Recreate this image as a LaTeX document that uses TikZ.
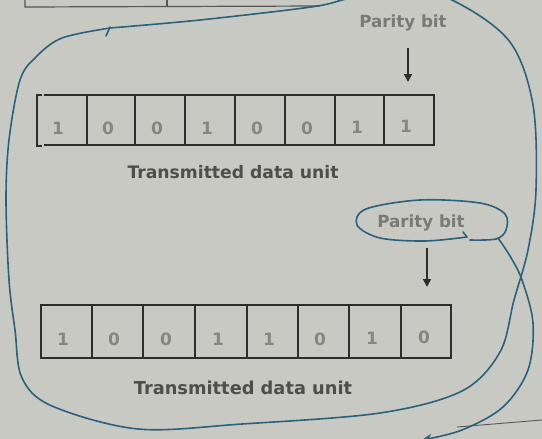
\documentclass[tikz,border=0pt]{standalone}
\usepackage{fontspec}
\setmainfont{DejaVu Sans}
\usetikzlibrary{arrows.meta}
\definecolor{paper}{RGB}{201,201,195}
\definecolor{ink}{RGB}{45,45,45}
\definecolor{graytxt}{RGB}{135,135,130}
\definecolor{partxt}{RGB}{122,122,118}
\definecolor{labtxt}{RGB}{78,78,75}
\definecolor{pen}{RGB}{42,98,124}
\tikzset{
  cellbox/.style={draw=ink, line width=1.5pt, inner sep=0pt, minimum height=#1},
  digit/.style={text=graytxt, font=\bfseries\fontsize{17}{17}\selectfont, inner sep=0pt},
  parlab/.style={text=partxt, font=\bfseries\fontsize{16.7}{17}\selectfont, inner sep=0pt},
  unitlab/.style={text=labtxt, font=\bfseries\fontsize{#1}{18}\selectfont, inner sep=0pt},
  parrow/.style={draw=ink, line width=1.6pt, -{Triangle[length=8pt,width=8pt]}},
  penline/.style={draw=pen, line width=1.6pt, line cap=round, line join=round},
  printline/.style={draw=ink!80, line width=1.2pt}
}
\begin{document}
\begin{tikzpicture}[x=1pt,y=-1pt]
\useasboundingbox (0,0) rectangle (542,439);
\clip (0,0) rectangle (542,439);
\fill[paper] (0,0) rectangle (542,439);
% top partial table
\draw[printline] (25,0) -- (25,7) -- (320,6);
\draw[printline] (167,0) -- (167,7);
% bottom right printed line
\draw[printline, line width=0.9pt] (457,427) -- (542,420);

% ---- row 1 ----
\node[cellbox=50pt, draw=none, minimum width=50pt] (a1) at (62,120) {};
\draw[ink, line width=1.5pt] (42,95) -- (37,95) -- (37,146) -- (42,146);
\draw[ink, line width=1.5pt] (44,95) -- (87,95) (44,145) -- (87,145);
\node[cellbox=50pt, minimum width=48pt] (a2) at (111,120) {};
\node[cellbox=50pt, minimum width=50pt] (a3) at (160,120) {};
\node[cellbox=50pt, minimum width=50pt] (a4) at (210,120) {};
\node[cellbox=50pt, minimum width=50pt] (a5) at (260,120) {};
\node[cellbox=50pt, minimum width=50pt] (a6) at (310,120) {};
\node[cellbox=50pt, minimum width=49pt] (a7) at (359.5,120) {};
\node[cellbox=50pt, minimum width=50pt] (a8) at (409,120) {};
\node[digit] (da1) at (58,128) {1};
\node[digit] (da2) at (108,128) {0};
\node[digit] (da3) at (157,128) {0};
\node[digit] (da4) at (207,128) {1};
\node[digit] (da5) at (257,128) {0};
\node[digit] (da6) at (307,128) {0};
\node[digit] (da7) at (357,127) {1};
\node[digit] (da8) at (406,126) {1};
\node[parlab] (p1) at (403,23) {Parity bit};
\coordinate (p1s) at (408,48);
\coordinate (p1e) at (408,82);
\draw[parrow] (p1s) -- (p1e);
\node[unitlab=17.2] (u1) at (233,172) {Transmitted data unit};

% ---- row 2 ----
\node[cellbox=53pt, minimum width=51pt] (b1) at (66.5,331.5) {};
\node[cellbox=53pt, minimum width=51pt] (b2) at (117.5,331.5) {};
\node[cellbox=53pt, minimum width=52pt] (b3) at (169,331.5) {};
\node[cellbox=53pt, minimum width=52pt] (b4) at (221,331.5) {};
\node[cellbox=53pt, minimum width=51pt] (b5) at (272.5,331.5) {};
\node[cellbox=53pt, minimum width=51pt] (b6) at (323.5,331.5) {};
\node[cellbox=53pt, minimum width=52pt] (b7) at (375,331.5) {};
\node[cellbox=53pt, minimum width=50pt] (b8) at (426,331.5) {};
\node[digit] (db1) at (63,339) {1};
\node[digit] (db2) at (114,339) {0};
\node[digit] (db3) at (166,339) {0};
\node[digit] (db4) at (218,339) {1};
\node[digit] (db5) at (269,339) {1};
\node[digit] (db6) at (320,339) {0};
\node[digit] (db7) at (372,338) {1};
\node[digit] (db8) at (424,337) {0};
\node[parlab] (p2) at (421,223) {Parity bit};
\coordinate (p2s) at (427,248);
\coordinate (p2e) at (427,287);
\draw[parrow] (p2s) -- (p2e);
\node[unitlab=17.8] (u2) at (243,388) {Transmitted data unit};

% ---- pen annotations ----
\draw[penline] plot[smooth, tension=0.55] coordinates {
 (110,28) (62,38) (36,57) (20,80) (9,140) (6,200) (9,280) (15,330) (22,378)
 (52,406) (138,429) (242,424) (380,413) (462,391) (500,352) (514,300)
 (528,250) (536,190) (533,105) (510,42) (456,2) (400,-14) (346,-1) (311,7) (200,20) (110,28)};
\draw[penline] (110,27) -- (106,36);
% loop around second parity label
\draw[penline] plot[smooth, tension=0.55] coordinates {
 (467,237) (425,241) (380,238) (357,225) (366,209) (420,200) (480,203)
 (505,214) (506,230) (496,239) (470,240)};
\draw[penline] (467,237) -- (463,232);
\draw[penline, -{Stealth[length=10pt,width=9pt]}] plot[smooth, tension=0.55] coordinates {
 (498,238) (510,256) (522,280) (533,323) (528,370) (503,407) (462,430) (422,440)};
\end{tikzpicture}
\end{document}
